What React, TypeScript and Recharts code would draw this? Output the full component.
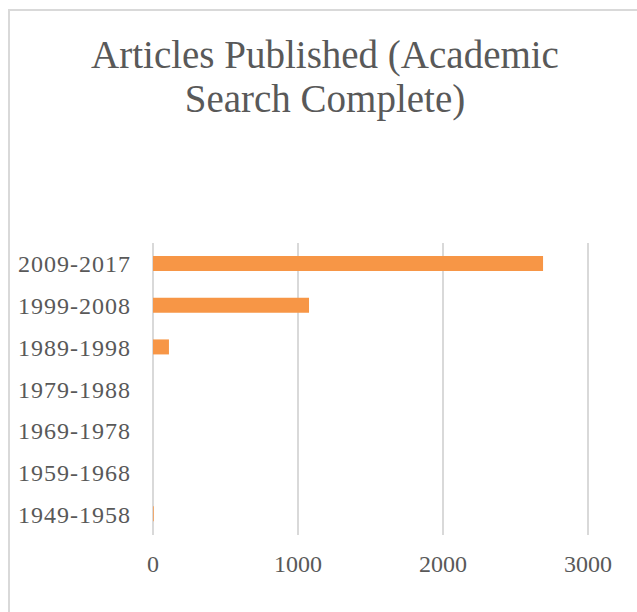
import { Bar, BarChart, CartesianGrid, XAxis, YAxis } from "recharts"

const periods = ["2009-2017", "1999-2008", "1989-1998", "1979-1988", "1969-1978", "1959-1968", "1949-1958"]
const articles = [2690, 1076, 110, 0, 0, 0, 5]
const xTicks = [0, 1000, 2000, 3000]

const data = periods.map((period, i) => ({ period, articles: articles[i] }))

const font = "'Liberation Serif', 'DejaVu Serif', serif"
const textColor = "#595959"

export default function App() {
  return (
    <div style={{ position: "absolute", left: 0, top: 0, width: 637, height: 612, background: "#fff", fontFamily: font }}>
      <div
        style={{
          position: "absolute",
          left: 8,
          top: 9,
          right: 0,
          bottom: 0,
          borderTop: "2px solid #d9d9d9",
          borderLeft: "2px solid #d9d9d9",
        }}
      />
      <div
        style={{
          position: "absolute",
          left: 0,
          top: 33,
          width: 650,
          textAlign: "center",
          fontSize: 39,
          lineHeight: "44px",
          color: textColor,
        }}
      >
        Articles Published (Academic
        <br />
        Search Complete)
      </div>
      <div style={{ position: "absolute", left: 0, top: 0 }}>
        <BarChart
          width={637}
          height={612}
          data={data}
          layout="vertical"
          margin={{ top: 243, right: 49, left: 0, bottom: 27 }}
          barSize={15}
        >
          <CartesianGrid horizontal={false} stroke="#d9d9d9" strokeWidth={2} />
          <XAxis
            type="number"
            domain={[0, 3000]}
            ticks={xTicks}
            axisLine={false}
            tickLine={false}
            tick={{ fontSize: 24, fill: textColor, fontFamily: font }}
            tickMargin={14}
            height={50}
          />
          <YAxis
            type="category"
            dataKey="period"
            width={153}
            axisLine={false}
            tickLine={false}
            tick={{ fontSize: 24, fill: textColor, fontFamily: font, letterSpacing: 1 }}
            tickMargin={16}
            interval={0}
          />
          <Bar dataKey="articles" fill="#F79646" isAnimationActive={false} />
        </BarChart>
      </div>
    </div>
  )
}
